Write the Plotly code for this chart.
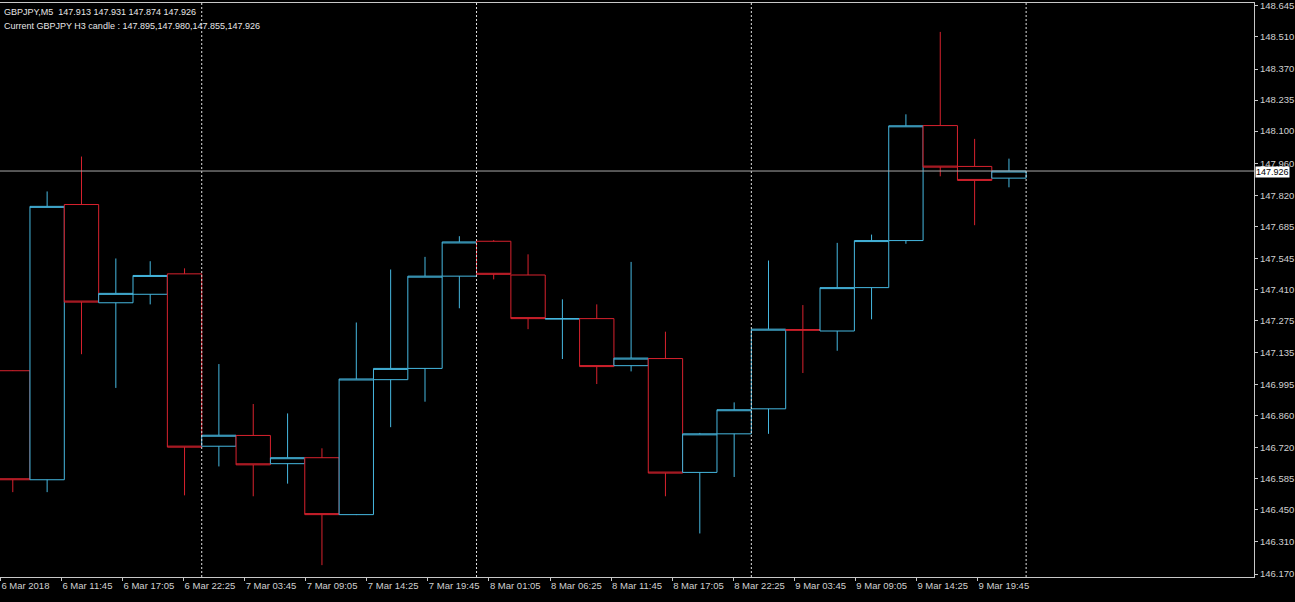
import plotly.graph_objects as go

# ---------------- data ----------------
candle_times = [
    "2018-03-06 06:00", "2018-03-06 09:00", "2018-03-06 12:00", "2018-03-06 15:00",
    "2018-03-06 18:00", "2018-03-06 21:00", "2018-03-07 00:00", "2018-03-07 03:00",
    "2018-03-07 06:00", "2018-03-07 09:00", "2018-03-07 12:00", "2018-03-07 15:00",
    "2018-03-07 18:00", "2018-03-07 21:00", "2018-03-08 00:00", "2018-03-08 03:00",
    "2018-03-08 06:00", "2018-03-08 09:00", "2018-03-08 12:00", "2018-03-08 15:00",
    "2018-03-08 18:00", "2018-03-08 21:00", "2018-03-09 00:00", "2018-03-09 03:00",
    "2018-03-09 06:00", "2018-03-09 09:00", "2018-03-09 12:00", "2018-03-09 15:00",
    "2018-03-09 18:00", "2018-03-09 21:00",
]
open_ = [147.056, 146.581, 147.780, 147.352, 147.389, 147.478, 146.727, 146.774,
         146.651, 146.677, 146.429, 147.017, 147.066, 147.468, 147.620, 147.473,
         147.281, 147.283, 147.078, 147.109, 146.613, 146.781, 146.890, 147.235,
         147.229, 147.418, 147.623, 148.124, 147.946, 147.895]
high = [147.058, 147.837, 147.989, 147.545, 147.533, 147.502, 147.085, 146.911,
        146.870, 146.718, 147.266, 147.497, 147.552, 147.642, 147.625, 147.563,
        147.367, 147.345, 147.530, 147.226, 146.785, 146.918, 147.536, 147.342,
        147.613, 147.649, 148.173, 148.532, 148.066, 147.980]
low = [146.527, 146.527, 147.128, 146.981, 147.345, 146.513, 146.639, 146.509,
       146.564, 146.209, 146.427, 146.810, 146.921, 147.328, 147.454, 147.237,
       147.107, 146.998, 147.053, 146.509, 146.347, 146.593, 146.781, 147.046,
       147.143, 147.280, 147.609, 147.903, 147.690, 147.855]
close = [146.581, 147.772, 147.355, 147.393, 147.471, 146.723, 146.775, 146.646,
         146.677, 146.429, 147.020, 147.066, 147.468, 147.617, 147.476, 147.283,
         147.283, 147.074, 147.111, 146.610, 146.781, 146.886, 147.237, 147.233,
         147.418, 147.623, 148.123, 147.943, 147.885, 147.926]

current_bid = 147.926
header_1 = "GBPJPY,M5  147.913 147.931 147.874 147.926"
header_2 = "Current GBPJPY H3 candle : 147.895,147.980,147.855,147.926"

day_separators = ["2018-03-07 00:00", "2018-03-08 00:00", "2018-03-09 00:00", "2018-03-10 00:00"]

x_tick_times = [
    "2018-03-06 06:25", "2018-03-06 11:45", "2018-03-06 17:05", "2018-03-06 22:25",
    "2018-03-07 03:45", "2018-03-07 09:05", "2018-03-07 14:25", "2018-03-07 19:45",
    "2018-03-08 01:05", "2018-03-08 06:25", "2018-03-08 11:45", "2018-03-08 17:05",
    "2018-03-08 22:25", "2018-03-09 03:45", "2018-03-09 09:05", "2018-03-09 14:25",
    "2018-03-09 19:45",
]
x_tick_labels = [
    "6 Mar 2018", "6 Mar 11:45", "6 Mar 17:05", "6 Mar 22:25", "7 Mar 03:45",
    "7 Mar 09:05", "7 Mar 14:25", "7 Mar 19:45", "8 Mar 01:05", "8 Mar 06:25",
    "8 Mar 11:45", "8 Mar 17:05", "8 Mar 22:25", "9 Mar 03:45", "9 Mar 09:05",
    "9 Mar 14:25", "9 Mar 19:45",
]
y_tick_labels = ["146.170", "146.310", "146.450", "146.585", "146.720", "146.860",
                 "146.995", "147.135", "147.275", "147.410", "147.545", "147.685",
                 "147.820", "147.960", "148.100", "148.235", "148.370", "148.510",
                 "148.645"]

# ---------------- style ----------------
BULL = "#46b8e0"
BEAR = "#d8222e"
AXIS = "#c8c8c8"
FONT = "Liberation Sans"

fig = go.Figure()
fig.add_trace(go.Candlestick(
    x=candle_times, open=open_, high=high, low=low, close=close,
    xperiod=3 * 3600 * 1000, xperiodalignment="middle",
    increasing=dict(line=dict(color=BULL, width=1), fillcolor="black"),
    decreasing=dict(line=dict(color=BEAR, width=1), fillcolor="black"),
    whiskerwidth=0, hoverinfo="skip",
))

shapes = []
for t in day_separators:
    shapes.append(dict(type="line", xref="x", yref="paper", x0=t, x1=t, y0=0, y1=1,
                       line=dict(color="#e0e0e0", width=1, dash="2px,2px"), layer="above"))
shapes.append(dict(type="line", xref="paper", yref="y", x0=0, x1=1,
                   y0=current_bid, y1=current_bid,
                   line=dict(color="#a8a8a8", width=1), layer="above"))

annotations = [
    dict(text=header_1, xref="paper", yref="paper", x=0, y=1, xanchor="left", yanchor="top",
         xshift=2, yshift=-2, showarrow=False, font=dict(family=FONT, size=9, color="#e6e6e6")),
    dict(text=header_2, xref="paper", yref="paper", x=0, y=1, xanchor="left", yanchor="top",
         xshift=2, yshift=-16, showarrow=False, font=dict(family=FONT, size=9, color="#e6e6e6")),
    dict(text=f"{current_bid:.3f}", xref="paper", yref="y", x=1, y=current_bid,
         xanchor="left", yanchor="middle", xshift=1, yshift=-1, showarrow=False,
         bgcolor="white", borderpad=0, font=dict(family=FONT, size=9, color="black")),
]

fig.update_layout(
    width=1295, height=602,
    margin=dict(l=0, r=41, t=1, b=25),
    paper_bgcolor="black", plot_bgcolor="black",
    showlegend=False, boxgap=0, boxgroupgap=0,
    shapes=shapes, annotations=annotations,
    xaxis=dict(
        type="date", range=["2018-03-06 06:23", "2018-03-10 19:54"],
        rangeslider=dict(visible=False), showgrid=False, zeroline=False,
        showline=True, linecolor=AXIS, linewidth=1, mirror=True,
        ticks="outside", ticklen=3, tickcolor=AXIS,
        tickvals=x_tick_times, ticktext=x_tick_labels,
        ticklabelposition="outside right",
        tickfont=dict(family=FONT, size=9.5, color="#d0d0d0"),
    ),
    yaxis=dict(
        side="right", range=[146.1573, 148.658], showgrid=False, zeroline=False,
        showline=True, linecolor=AXIS, linewidth=1,
        ticks="outside", ticklen=3, tickcolor=AXIS,
        tickvals=[float(v) for v in y_tick_labels], ticktext=y_tick_labels,
        ticklabeloverflow="allow",
        tickfont=dict(family=FONT, size=9.5, color="#d0d0d0"),
    ),
)

fig.write_html("out.html", config={"displayModeBar": False},
               post_script="document.body.style.margin='0';")
